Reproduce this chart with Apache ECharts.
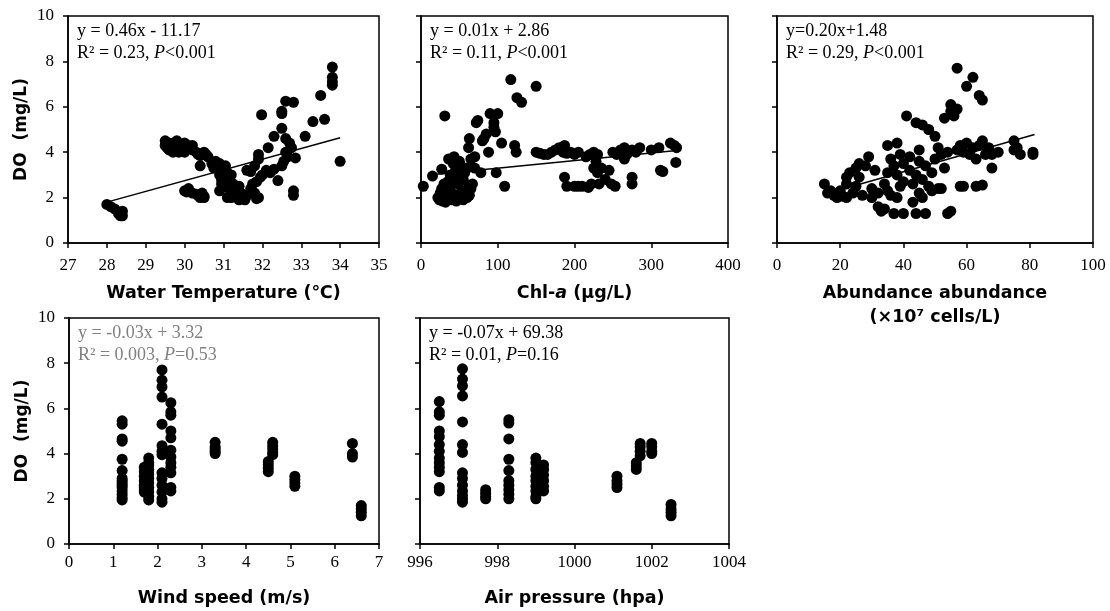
<!DOCTYPE html>
<html>
<head>
<meta charset="utf-8">
<script src="https://cdn.jsdelivr.net/npm/echarts@6/dist/echarts.min.js"></script>
<style>
html,body{margin:0;padding:0;background:#fff;}
#c{width:1110px;height:611px;}
</style>
</head>
<body>
<div id="c"></div>
<script>
// ---- DATA ----
const yTicks = [0, 2, 4, 6, 8, 10];

const tempData = [
 [28.0,1.7],[28.1,1.6],[28.2,1.5],[28.3,1.3],[28.35,1.2],[28.4,1.4],[28.4,1.2],[28.3,1.35],
 [29.5,4.5],[29.5,4.3],[29.55,4.2],[29.6,4.1],[29.7,4.0],[29.7,4.4],[29.8,4.5],[29.8,4.2],[29.85,4.0],[29.9,4.1],
 [29.95,4.3],[30.0,4.4],[30.0,4.0],[30.05,4.2],[29.6,4.4],[29.75,4.1],[30.1,4.3],[30.2,4.3],[30.2,4.1],
 [30.3,4.0],[30.35,3.9],[30.4,3.85],[30.5,4.0],[30.55,3.9],[30.6,3.8],[30.4,3.4],
 [30.0,2.3],[30.05,2.25],[30.1,2.4],[30.2,2.2],[30.3,2.15],[30.35,2.1],[30.4,2.0],[30.5,2.05],[30.5,2.0],[30.45,2.2],
 [30.7,3.5],[30.75,3.3],[30.8,3.6],[30.85,3.4],[30.9,3.5],[30.9,3.0],[30.95,2.6],[30.9,2.3],[30.95,2.8],[31.0,3.2],
 [31.0,2.5],[31.05,3.4],[31.1,3.1],[31.1,2.7],[31.15,2.9],[31.15,2.4],[31.2,2.2],[31.2,3.0],[31.25,2.6],[31.3,2.1],
 [31.3,2.4],[31.35,2.0],[31.4,1.9],[31.4,2.5],[31.45,2.2],[31.5,2.0],[31.55,1.9],[31.6,2.1],[31.1,2.0],[31.2,2.0],
 [31.6,3.2],[31.7,3.15],[31.7,2.4],[31.75,2.6],[31.8,3.4],[31.8,2.2],[31.85,2.7],[31.9,3.7],[31.9,3.9],[31.9,2.0],
 [31.85,1.95],[31.95,2.9],[32.0,3.0],[31.98,5.65],[32.1,3.2],[32.15,4.2],[32.2,3.1],[32.3,4.7],[32.3,3.25],[32.4,2.75],
 [32.5,5.8],[32.5,5.7],[32.5,5.05],[32.5,3.4],[32.55,3.6],[32.6,6.25],[32.6,4.6],[32.6,4.0],[32.65,3.8],[32.7,4.4],
 [32.75,4.2],[32.8,6.2],[32.8,2.3],[32.8,2.1],[32.85,3.75],[33.1,4.7],[33.3,5.35],[33.5,6.5],[33.6,5.45],
 [33.8,7.75],[33.8,7.3],[33.8,7.1],[33.8,6.95],[34.0,3.6]
];
const tempTrend = [[28.0,1.8],[34.0,4.64]];

const chlData = [
 [3,2.5],[15,2.95],[27,3.25],[31,5.6],
 [22,2.0],[24,1.9],[25,2.2],[27,2.4],[28,1.85],[30,2.1],[30,2.6],[32,1.8],[33,2.3],[35,2.0],[35,2.7],[36,3.7],
 [38,2.5],[38,3.0],[40,2.2],[40,1.9],[42,3.5],[42,2.8],[43,3.8],[45,2.1],[45,3.2],[46,1.85],[48,2.6],[48,3.0],
 [50,3.6],[50,2.0],[52,3.4],[53,2.3],[55,1.9],[55,2.8],[57,3.1],[58,2.2],[60,2.0],[60,3.3],[62,2.5],[63,2.1],
 [65,3.7],[65,2.4],[62,4.2],[63,4.6],[67,2.6],[70,3.3],[70,3.8],[72,5.3],[74,5.4],[78,3.1],[80,4.5],[82,4.6],
 [85,4.8],[88,4.0],[90,5.7],[95,5.3],[95,5.1],[97,4.9],[100,5.7],[98,3.1],[105,4.4],[109,2.5],[117,7.2],[122,4.3],
 [124,4.0],[125,6.4],[131,6.2],[150,6.9],[150,4.0],[155,3.95],[160,3.9],
 [165,3.9],[170,4.0],[175,4.1],[180,4.2],[185,4.0],[187,4.3],[190,3.95],[195,4.0],[200,3.9],[205,4.0],[215,3.8],
 [220,3.9],[225,4.0],[230,3.9],[250,4.0],[255,3.9],[260,4.1],[265,4.2],[270,4.0],[275,4.1],[280,4.0],[285,4.2],
 [300,4.1],[310,4.2],[325,4.4],[330,4.3],[333,4.2],
 [187,2.9],[190,2.5],[200,2.5],[205,2.5],[210,2.5],[218,2.45],[222,2.6],[225,3.3],[228,3.6],[230,3.1],[232,2.6],
 [235,3.3],[240,2.8],[245,3.2],[248,2.6],[253,2.5],[265,3.7],[268,3.9],[275,2.9],[275,2.6],[312,3.2],[315,3.15],[332,3.55]
];
const chlTrend = [[10,3.0],[333,4.07]];

const abundData = [
 [15,2.6],[16,2.2],[17,2.3],[18,2.1],[19,2.0],[20,2.3],[21,2.05],[22,2.0],[22,2.9],[23,3.1],[22,2.6],[24,2.2],
 [25,2.5],[25,3.3],[26,2.9],[26,3.5],[27,2.1],[28,3.4],[29,3.8],[30,2.0],[30,2.4],[31,3.2],[32,2.2],[32,1.6],
 [33,1.4],[34,2.6],[34,1.5],[35,2.3],[35,3.1],[35,4.3],[36,3.7],[36,2.1],[37,1.3],[37,3.4],[38,2.0],[38,4.4],
 [38,3.0],[39,2.5],[39,3.9],[40,1.3],[40,3.5],[40,2.7],[41,5.6],[42,3.2],[42,3.8],[43,2.6],[43,1.8],[44,3.0],
 [44,5.3],[44,1.3],[45,2.2],[45,3.6],[45,4.1],[46,5.2],[46,2.0],[46,2.8],[47,1.3],[47,3.4],[48,5.0],[48,2.5],
 [49,3.1],[49,2.3],[50,4.7],[50,3.7],[51,4.2],[51,2.4],[52,3.9],[52,2.4],[53,5.5],[53,3.3],[54,1.3],[54,4.0],
 [55,1.4],[55,5.8],[56,5.6],[55,6.1],[57,4.1],[57,5.9],[57,7.7],[58,2.5],[58,4.3],[59,2.5],[59,4.0],[60,6.9],
 [60,4.4],[61,3.9],[62,7.3],[62,4.2],[63,2.5],[63,3.7],[64,4.3],[64,6.5],[65,6.3],[65,4.5],[65,2.55],[66,3.9],
 [67,4.2],[68,3.3],[68,3.9],[70,4.0],[75,4.5],[75,4.1],[76,4.2],[77,3.9],[81,4.0],[81,3.9]
];
const abundTrend = [[15,2.15],[81.5,4.78]];

const windData = [
 [1.2,5.45],[1.2,5.3],[1.2,4.65],[1.2,4.55],[1.2,3.75],[1.2,3.25],[1.2,2.9],[1.2,2.8],[1.2,2.7],[1.2,2.6],[1.2,2.5],
 [1.2,2.35],[1.2,2.2],[1.2,2.05],[1.2,1.95],
 [1.7,3.4],[1.7,3.2],[1.7,3.0],[1.7,2.8],[1.7,2.6],[1.7,2.5],[1.7,2.4],[1.7,2.3],
 [1.8,3.8],[1.8,3.6],[1.8,3.5],[1.8,3.3],[1.8,3.1],[1.8,2.9],[1.8,2.7],[1.8,2.5],[1.8,2.3],[1.8,2.1],[1.8,1.95],
 [2.1,7.7],[2.1,7.25],[2.1,6.95],[2.1,6.5],[2.1,5.3],[2.1,4.35],[2.1,4.1],[2.1,3.95],[2.1,3.15],[2.1,2.9],[2.1,2.6],
 [2.1,2.3],[2.1,2.0],[2.1,1.85],
 [2.3,6.25],[2.3,5.85],[2.3,5.7],[2.3,5.0],[2.3,4.7],[2.3,4.15],[2.3,3.85],[2.3,3.6],[2.3,3.4],[2.3,3.15],[2.3,2.5],[2.3,2.35],
 [3.3,4.5],[3.3,4.3],[3.3,4.2],[3.3,4.1],[3.3,4.0],
 [4.5,3.65],[4.5,3.5],[4.5,3.35],[4.5,3.2],
 [4.6,4.5],[4.6,4.35],[4.6,4.2],[4.6,4.05],[4.6,3.95],
 [5.1,3.0],[5.1,2.85],[5.1,2.7],[5.1,2.55],
 [6.4,4.45],[6.4,4.0],[6.4,3.85],
 [6.6,1.7],[6.6,1.55],[6.6,1.4],[6.6,1.25]
];

const pressData = [
 [996.5,6.3],[996.5,5.85],[996.5,5.7],[996.5,5.0],[996.5,4.75],[996.5,4.4],[996.5,4.1],[996.5,3.8],[996.5,3.6],
 [996.5,3.4],[996.5,3.2],[996.5,2.5],[996.5,2.35],
 [997.1,7.75],[997.1,7.3],[997.1,7.0],[997.1,6.55],[997.1,5.4],[997.1,4.4],[997.1,4.05],[997.1,3.15],[997.1,2.9],
 [997.1,2.6],[997.1,2.35],[997.1,2.15],[997.1,2.0],[997.1,1.85],
 [997.7,2.4],[997.7,2.25],[997.7,2.1],[997.7,2.0],
 [998.3,5.5],[998.3,5.35],[998.3,4.65],[998.3,3.75],[998.3,3.25],[998.3,2.8],[998.3,2.6],[998.3,2.4],[998.3,2.2],[998.3,2.0],
 [999.0,3.8],[999.0,3.6],[999.0,3.3],[999.0,3.0],[999.0,2.8],[999.0,2.55],[999.0,2.35],[999.0,2.1],[999.0,2.0],
 [999.2,3.5],[999.2,3.3],[999.2,3.05],[999.2,2.8],[999.2,2.55],[999.2,2.35],
 [1001.1,3.0],[1001.1,2.8],[1001.1,2.65],[1001.1,2.5],
 [1001.6,3.6],[1001.6,3.45],[1001.6,3.3],
 [1001.7,4.45],[1001.7,4.3],[1001.7,4.1],[1001.7,3.9],
 [1002.0,4.45],[1002.0,4.3],[1002.0,4.1],[1002.0,4.0],
 [1002.5,1.75],[1002.5,1.55],[1002.5,1.4],[1002.5,1.25]
];

const xTitles = ['Water Temperature (℃)', 'Chl-a (μg/L)', 'Abundance abundance\n(×10⁷ cells/L)', 'Wind speed (m/s)', 'Air pressure (hpa)'];
const eqLines = [
 ['y = 0.46x - 11.17', 'R² = 0.23, ', 'P', '<0.001'],
 ['y = 0.01x + 2.86', 'R² = 0.11, ', 'P', '<0.001'],
 ['y=0.20x+1.48', 'R² = 0.29, ', 'P', '<0.001'],
 ['y = -0.03x + 3.32', 'R² = 0.003, ', 'P', '=0.53'],
 ['y = -0.07x + 69.38', 'R² = 0.01, ', 'P', '=0.16']
];

// ---- LAYOUT ----
const grids = [
 {left:68, top:16, width:311, height:227},
 {left:421, top:16, width:307, height:227},
 {left:777, top:16, width:316, height:227},
 {left:69, top:318, width:310, height:230},
 {left:420, top:318, width:309, height:230}
];
const xRanges = [[27,35,1],[0,400,100],[0,100,20],[0,7,1],[996,1004,2]];
const serif = 'Liberation Serif';
const sans = 'DejaVu Sans';

const xAxes = grids.map((g,i)=>({
 type:'value', gridIndex:i, min:xRanges[i][0], max:xRanges[i][1], interval:xRanges[i][2],
 axisLine:{show:true, onZero:false, lineStyle:{color:'#000', width:1.5}},
 axisTick:{show:true, inside:false, length:5, lineStyle:{color:'#000', width:1.5}},
 axisLabel:{color:'#000', fontFamily:serif, fontSize:17, margin: i<3 ? 14 : 10, formatter:v=>String(v)},
 splitLine:{show:false},
 name: i===1 ? '{b|Chl-}{bi|a}{b| (μg/L)}' : xTitles[i],
 nameLocation:'middle',
 nameGap: i<3 ? 38 : 42,
 nameTextStyle:{color:'#000', fontFamily:sans, fontWeight:'bold', fontSize:17.5, lineHeight:24,
   rich:{b:{fontFamily:sans, fontWeight:'bold', fontSize:17.5, color:'#000'},
         bi:{fontFamily:sans, fontWeight:'bold', fontStyle:'italic', fontSize:17.5, color:'#000'}}}
}));
const yAxes = grids.map((g,i)=>({
 type:'value', gridIndex:i, min:0, max:10, interval:2,
 axisLine:{show:true, onZero:false, lineStyle:{color:'#000', width:1.5}},
 axisTick:{show:true, inside:false, length:5, lineStyle:{color:'#000', width:1.5}},
 axisLabel:{show: i===0 || i===3, color:'#000', fontFamily:serif, fontSize:17, margin:14},
 splitLine:{show:false},
 name: (i===0 || i===3) ? 'DO  (mg/L)' : '',
 nameLocation:'middle', nameGap:38, nameRotate:90,
 nameTextStyle:{color:'#000', fontFamily:sans, fontWeight:'bold', fontSize:17}
}));

const pts = [tempData, chlData, abundData, windData, pressData];
const trends = [tempTrend, chlTrend, abundTrend, null, null];
const series = [];
pts.forEach((d,i)=>{
 series.push({type:'scatter', xAxisIndex:i, yAxisIndex:i, data:d, symbol:'circle', symbolSize:11,
   itemStyle:{color:'#000', opacity:1}, silent:true, z:2});
 if (trends[i]) series.push({type:'line', xAxisIndex:i, yAxisIndex:i, data:trends[i], showSymbol:false,
   lineStyle:{color:'#000', width:1.5}, silent:true, z:3});
});

const graphics = grids.map((g,i)=>{
 const c = i===3 ? '#808080' : '#000';
 const e = eqLines[i];
 return {type:'text', left:g.left+9, top:g.top+6, z:10,
   style:{text:'{n|'+e[0]+'}\n{n|'+e[1]+'}{i|'+e[2]+'}{n|'+e[3]+'}',
     rich:{n:{fontFamily:serif, fontSize:18, fill:c, lineHeight:22},
           i:{fontFamily:serif, fontSize:18, fontStyle:'italic', fill:c, lineHeight:22}}}};
});

const chart = echarts.init(document.getElementById('c'), null, {renderer:'canvas'});
chart.setOption({
 animation:false,
 backgroundColor:'#fff',
 grid: grids.map(g=>Object.assign({show:true, borderColor:'#000', borderWidth:1.5, backgroundColor:'transparent'}, g)),
 xAxis: xAxes, yAxis: yAxes, series: series, graphic: graphics
});
</script>
</body>
</html>
